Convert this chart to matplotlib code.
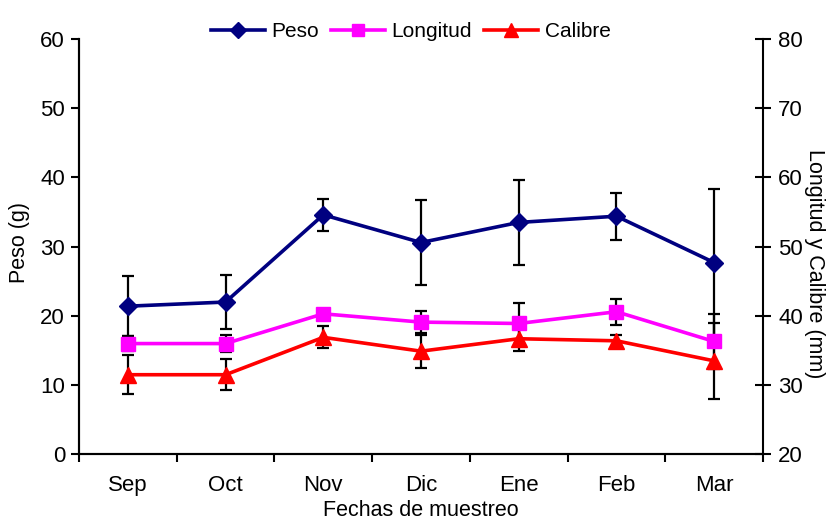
import matplotlib.pyplot as plt
from matplotlib.ticker import MultipleLocator

plt.rcParams["font.family"] = ["Liberation Sans", "DejaVu Sans"]
plt.rcParams["font.size"] = 15.5

# Data
months = ["Sep", "Oct", "Nov", "Dic", "Ene", "Feb", "Mar"]
peso = [21.4, 22.0, 34.6, 30.6, 33.5, 34.4, 27.7]
peso_err = [4.3, 3.9, 2.3, 6.1, 6.2, 3.4, 10.7]
longitud = [36.0, 36.0, 40.3, 39.1, 38.9, 40.6, 36.3]
longitud_err = [1.1, 1.2, 0.6, 1.6, 3.0, 1.9, 4.0]
calibre = [31.5, 31.5, 36.9, 34.9, 36.7, 36.4, 33.5]
calibre_err = [2.8, 2.2, 1.6, 2.4, 1.8, 0.8, 5.5]

x = list(range(len(months)))

fig = plt.figure(figsize=(8.34, 5.2), dpi=100)
ax = fig.add_axes([0.0947, 0.1263, 0.8202, 0.7987])
ax2 = ax.twinx()

err_kw = dict(fmt="none", ecolor="black", elinewidth=1.6, capsize=4.5, capthick=1.6)

ax.errorbar(x, peso, yerr=peso_err, zorder=1, **err_kw)
(l1,) = ax.plot(x, peso, color="#000080", lw=2.6, marker="D", ms=9, zorder=2, label="Peso")

ax2.errorbar(x, longitud, yerr=longitud_err, zorder=1, **err_kw)
ax2.errorbar(x, calibre, yerr=calibre_err, zorder=1, **err_kw)
(l2,) = ax2.plot(x, longitud, color="#FF00FF", lw=2.6, marker="s", ms=10, zorder=2, label="Longitud")
(l3,) = ax2.plot(x, calibre, color="#FF0000", lw=2.6, marker="^", ms=12, zorder=3, label="Calibre")

ax.set_xlim(-0.5, len(months) - 0.5)
ax.set_ylim(0, 60)
ax2.set_ylim(20, 80)
ax.yaxis.set_major_locator(MultipleLocator(10))
ax2.yaxis.set_major_locator(MultipleLocator(10))

# category labels centred, tick marks between categories
ax.set_xticks([i - 0.5 for i in range(len(months) + 1)])
ax.set_xticklabels([])
ax.set_xticks(x, minor=True)
ax.set_xticklabels(months, minor=True)
ax.tick_params(axis="x", which="minor", length=0, pad=15, labelsize=16)
ax.tick_params(axis="x", which="major", direction="out", length=6, width=1.5)
ax.tick_params(axis="y", direction="out", length=6, width=1.5, pad=4, labelsize=16)
ax2.tick_params(axis="y", direction="inout", length=12, width=1.5, pad=5, labelsize=16)

for a in (ax, ax2):
    a.spines["top"].set_visible(False)
    for s in ("left", "right", "bottom"):
        a.spines[s].set_linewidth(1.5)
ax.spines["right"].set_visible(False)

ax.set_ylabel("Peso (g)")
ax.yaxis.set_label_coords(-0.072, 0.51)
ax2.set_ylabel("Longitud y Calibre (mm)", rotation=-90)
ax2.yaxis.set_label_coords(1.09, 0.458)
ax.set_xlabel("Fechas de muestreo", labelpad=3)

ax2.legend(handles=[l1, l2, l3], loc="lower center", bbox_to_anchor=(0.485, 0.975),
           ncol=3, frameon=False, fontsize=15, handlelength=2.6, handletextpad=0.3,
           columnspacing=0.58, borderaxespad=0, markerscale=0.85)

fig.savefig("out.png", dpi=100)
